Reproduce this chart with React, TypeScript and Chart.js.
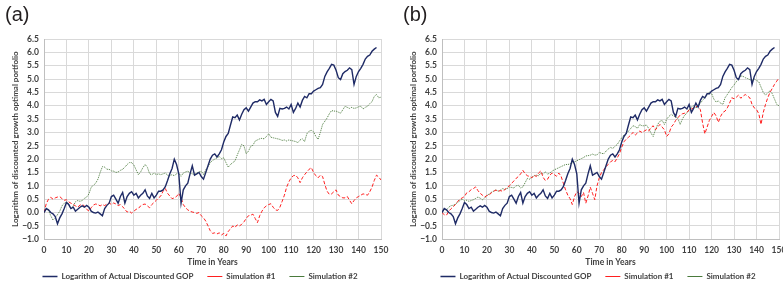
import React, { useEffect, useRef } from "react";
import { Chart, registerables } from "chart.js";

Chart.register(...registerables);

// ---------- data ----------
const YEARS: number[] = Array.from({ length: 151 }, (_, i) => i);

const SERIES_NAMES = ["Logarithm of Actual Discounted GOP", "Simulation #1", "Simulation #2"];
const X_TITLE = "Time in Years";
const Y_TITLE = "Logarithm of discounted growth optimal portfolio";
const PANEL_LABELS = ["(a)", "(b)"];

const X_MIN = 0, X_MAX = 150, X_STEP = 10;
const Y_MIN = -1, Y_MAX = 6.5, Y_STEP = 0.5;

// Logarithm of actual discounted GOP (same in both panels), years 0..148
const GOP = [
  0.0, 0.15, 0.1, 0.0, -0.05, -0.15, -0.42, -0.2, -0.05, 0.15,
  0.38, 0.3, 0.15, 0.2, 0.05, 0.12, 0.2, 0.25, 0.2, 0.27,
  0.2, 0.05, 0.0, -0.02, 0.02, -0.05, -0.12, 0.15, 0.27, 0.35,
  0.6, 0.65, 0.5, 0.35, 0.6, 0.75, 0.35, 0.6, 0.72, 0.78,
  0.65, 0.72, 0.55, 0.65, 0.72, 0.85, 0.62, 0.53, 0.72, 0.55,
  0.65, 0.8, 0.8, 0.85, 0.97, 1.2, 1.45, 1.65, 2.0, 1.8,
  1.45, 0.35, 0.85, 1.0, 1.1, 1.45, 1.75, 1.4, 1.45, 1.5,
  1.35, 1.25, 1.5, 1.75, 2.0, 2.15, 2.2, 2.08, 2.2, 2.35,
  2.64, 2.85, 2.96, 3.28, 3.58, 3.55, 3.65, 3.47, 3.68, 3.85,
  3.92, 3.8, 3.95, 4.1, 4.15, 4.15, 4.22, 4.18, 4.24, 4.05,
  4.15, 4.24, 4.18, 3.75, 3.6, 3.9, 3.88, 3.9, 3.95, 3.88,
  4.05, 3.75, 3.9, 4.1, 3.95, 4.2, 4.35, 4.3, 4.45, 4.45,
  4.55, 4.6, 4.65, 4.68, 4.8, 5.1, 5.27, 5.4, 5.55, 5.52,
  5.33, 5.05, 4.98, 5.2, 5.28, 5.33, 5.42, 5.35, 4.8, 5.1,
  5.28, 5.4, 5.55, 5.75, 5.85, 5.9, 6.04, 6.12, 6.18,
];

// Panel (a) simulations, years 0..150
const SIM1_A = [
  0.0, 0.33, 0.5, 0.57, 0.5, 0.55, 0.58, 0.6, 0.52, 0.46,
  0.48, 0.4, 0.35, 0.3, 0.25, 0.2, 0.28, 0.3, 0.25, 0.12,
  0.06, 0.18, 0.28, 0.32, 0.3, 0.25, 0.3, 0.26, 0.32, 0.36,
  0.3, 0.36, 0.32, 0.26, 0.3, 0.22, 0.12, 0.02, 0.05, -0.02,
  0.05, 0.12, 0.15, 0.25, 0.3, 0.32, 0.25, 0.18, 0.3, 0.38,
  0.46, 0.55, 0.62, 0.8, 0.9, 0.72, 0.62, 0.52, 0.55, 0.6,
  0.72, 0.55, 0.3, 0.18, 0.1, 0.05, 0.02, 0.0, -0.03, 0.0,
  -0.12, -0.2, -0.32, -0.5, -0.68, -0.78, -0.76, -0.8, -0.76, -0.84,
  -0.78, -0.88, -0.7, -0.62, -0.5, -0.56, -0.46, -0.5, -0.44, -0.35,
  -0.22, -0.12, -0.1, -0.06, -0.22, -0.38, -0.12, 0.05, 0.18, 0.25,
  0.3, 0.33, 0.2, 0.1, 0.08, 0.2, 0.42, 0.65, 0.95, 1.15,
  1.3, 1.38, 1.4, 1.3, 1.12, 1.3, 1.42, 1.52, 1.62, 1.68,
  1.5, 1.38, 1.3, 1.4, 1.35, 1.05, 0.8, 0.68, 0.7, 0.78,
  0.85, 0.65, 0.6, 0.55, 0.55, 0.6, 0.46, 0.33, 0.45, 0.55,
  0.6, 0.65, 0.7, 0.68, 0.65, 0.78, 0.95, 1.2, 1.4, 1.33,
  1.22,
];

const SIM2_A = [
  0.0, 0.12, 0.08, -0.12, -0.28, -0.2, -0.08, 0.05, 0.25, 0.35,
  0.38, 0.33, 0.14, 0.25, 0.4, 0.45, 0.42, 0.45, 0.53, 0.58,
  0.7, 0.95, 1.02, 1.1, 1.25, 1.5, 1.72, 1.7, 1.62, 1.62,
  1.56, 1.55, 1.5, 1.52, 1.58, 1.62, 1.7, 1.8, 1.87, 1.87,
  1.78, 1.6, 1.42, 1.52, 1.68, 1.8, 1.7, 1.45, 1.42, 1.48,
  1.42, 1.45, 1.42, 1.45, 1.48, 1.4, 1.38, 1.42, 1.38, 1.45,
  1.48, 1.36, 1.48, 1.52, 1.55, 1.48, 1.45, 1.42, 1.48, 1.52,
  1.55, 1.42, 1.6, 1.72, 1.87, 1.95, 2.0, 2.05, 2.1, 2.02,
  2.05, 1.87, 1.7, 1.8, 1.87, 1.93, 2.15, 2.35, 2.55, 2.5,
  2.2, 2.3, 2.48, 2.52, 2.68, 2.72, 2.76, 2.78, 2.76, 2.85,
  2.95, 2.82, 2.8, 2.78, 2.76, 2.74, 2.7, 2.72, 2.68, 2.72,
  2.7, 2.68, 2.66, 2.62, 2.72, 2.76, 2.66, 2.95, 3.05, 3.08,
  3.02, 2.85, 2.74, 3.0, 3.3, 3.42, 3.54, 3.7, 3.82, 3.8,
  3.8, 3.76, 3.72, 3.85, 3.98, 3.94, 3.9, 3.94, 3.9, 3.92,
  3.96, 3.98, 3.88, 3.94, 3.98, 4.08, 4.15, 4.35, 4.42, 4.3,
  4.32,
];

// Panel (b) simulations, years 0..150
const SIM1_B = [
  0.0, -0.08, -0.1, 0.05, 0.14, 0.22, 0.3, 0.42, 0.5, 0.55,
  0.6, 0.74, 0.78, 0.86, 0.9, 0.96, 0.82, 0.72, 0.65, 0.58,
  0.64, 0.66, 0.74, 0.8, 0.84, 0.8, 0.82, 0.8, 0.86, 0.95,
  1.0, 1.1, 1.18, 1.28, 1.35, 1.45, 1.58, 1.45, 1.38, 1.35,
  1.3, 1.4, 1.35, 1.48, 1.56, 1.32, 1.2, 1.25, 1.4, 1.48,
  1.42, 1.36, 1.48, 1.36, 1.1, 0.85, 0.65, 0.52, 0.3, 0.6,
  0.78, 0.72, 0.6, 0.75, 0.35, 0.62, 0.95, 0.72, 0.48, 1.0,
  1.3, 1.5, 1.6, 1.72, 1.8, 1.9, 1.95, 1.9, 2.05, 2.2,
  2.45, 2.65, 2.75, 2.82, 2.9, 3.0, 2.9, 2.98, 3.05, 3.0,
  3.05, 3.1, 3.05, 3.18, 3.25, 3.1, 3.2, 3.3, 3.2, 3.1,
  2.85, 2.95, 3.2, 3.3, 3.45, 3.55, 3.65, 3.7, 3.72, 3.75,
  3.85, 3.88, 3.92, 3.96, 4.0, 3.85, 3.35, 2.95, 3.2, 3.45,
  3.6, 3.75, 3.62, 3.38, 3.6, 3.75, 3.8, 3.92, 4.1, 4.3,
  4.26, 4.32, 4.4, 4.28, 4.36, 4.42, 4.36, 4.3, 4.05, 3.92,
  3.86, 3.7, 3.3, 3.75, 4.05, 4.3, 4.5, 4.65, 4.8, 4.92,
  5.05,
];

const SIM2_B = [
  0.0, 0.12, 0.1, 0.2, 0.26, 0.27, 0.32, 0.38, 0.45, 0.5,
  0.44, 0.46, 0.42, 0.45, 0.48, 0.53, 0.58, 0.54, 0.48, 0.55,
  0.63, 0.7, 0.76, 0.8, 0.85, 0.8, 0.84, 0.9, 0.86, 0.9,
  0.95, 0.94, 0.92, 1.0, 1.02, 0.92, 0.96, 1.12, 1.28, 1.25,
  1.32, 1.38, 1.4, 1.38, 1.48, 1.44, 1.52, 1.44, 1.48, 1.55,
  1.6, 1.64, 1.68, 1.72, 1.76, 1.8, 1.8, 1.82, 1.86, 1.9,
  1.94, 1.98, 2.02, 2.06, 2.12, 2.13, 2.15, 2.19, 2.15, 2.16,
  2.25, 2.22, 2.2, 2.3, 2.38, 2.44, 2.4, 2.48, 2.55, 2.68,
  2.8, 2.9, 2.95, 3.05, 3.15, 3.25, 3.22, 3.15, 3.3, 3.25,
  3.25, 3.28, 3.15, 2.98, 2.85, 3.1, 3.3, 3.42, 3.45, 3.3,
  3.5, 3.6, 3.68, 3.62, 3.58, 3.52, 3.3, 3.5, 3.65, 3.72,
  3.85, 3.95, 4.0, 3.92, 3.98, 4.1, 4.2, 4.3, 4.4, 4.52,
  4.46, 4.25, 4.14, 4.18, 4.1, 4.05, 4.3, 4.42, 4.55, 4.68,
  4.78, 4.9, 5.02, 5.12, 5.1, 5.05, 5.02, 4.98, 4.94, 5.0,
  4.95, 4.9, 4.7, 4.5, 4.4, 4.48, 4.56, 4.45, 4.25, 4.05,
  4.0,
];

// ---------- styles ----------
const NAVY = "#1f2b66";
const RED = "#ff1f1f";
const GREEN = "#4a7a3c";
const GRID = "#d9d9d9";
const AXIS = "#bfbfbf";
const TEXT = "#404040";
const FAMILY = 'Lato, "Liberation Sans", Arial, sans-serif';

const toPoints = (vals: number[]) => vals.map((v, i) => ({ x: YEARS[i], y: v }));
const fmtY = (v: number) => (v < 0 ? "\u2212" : "") + Math.abs(v).toFixed(1);

function Panel({ left, label, sim1, sim2 }: { left: number; label: string; sim1: number[]; sim2: number[] }) {
  const ref = useRef<HTMLCanvasElement>(null);

  useEffect(() => {
    const tickFont = { family: FAMILY, size: 8.5, weight: "bold" as const, lineHeight: 1 };
    const chart = new Chart(ref.current!, {
      type: "line",
      data: {
        datasets: [
          {
            label: SERIES_NAMES[0],
            data: toPoints(GOP),
            borderColor: NAVY,
            backgroundColor: NAVY,
            borderWidth: 1.4,
            pointRadius: 0,
            tension: 0,
          },
          {
            label: SERIES_NAMES[1],
            data: toPoints(sim1),
            borderColor: RED,
            backgroundColor: RED,
            borderWidth: 1.0,
            borderDash: [3.5, 2],
            pointRadius: 0,
            tension: 0,
          },
          {
            label: SERIES_NAMES[2],
            data: toPoints(sim2),
            borderColor: GREEN,
            backgroundColor: GREEN,
            borderWidth: 1.0,
            borderDash: [1, 1],
            pointRadius: 0,
            tension: 0,
          },
        ],
      },
      options: {
        animation: false,
        responsive: false,
        maintainAspectRatio: false,
        events: [],
        layout: { padding: { top: 39, bottom: -8.5, left: 0, right: 0 } },
        plugins: {
          tooltip: { enabled: false },
          title: { display: false },
          legend: {
            position: "bottom",
            labels: {
              usePointStyle: true,
              pointStyle: "line",
              pointStyleWidth: 15,
              boxHeight: 8,
              padding: 14,
              color: TEXT,
              font: { family: FAMILY, size: 8, weight: "bold" },
            },
          },
        },
        scales: {
          x: {
            type: "linear",
            min: X_MIN,
            max: X_MAX,
            ticks: {
              stepSize: X_STEP,
              autoSkip: false,
              maxRotation: 0,
              padding: 3.5,
              color: TEXT,
              font: tickFont,
            },
            grid: { color: GRID, drawTicks: true, tickLength: 3, tickColor: "rgba(0,0,0,0)" },
            border: { color: AXIS },
            title: {
              display: true,
              text: X_TITLE,
              color: TEXT,
              font: { family: FAMILY, size: 8.5, weight: "bold", lineHeight: 1 },
              padding: { top: 0, bottom: -7.75 },
            },
          },
          y: {
            type: "linear",
            min: Y_MIN,
            max: Y_MAX,
            ticks: {
              stepSize: Y_STEP,
              autoSkip: false,
              padding: 5,
              color: TEXT,
              font: tickFont,
              callback: (v: any) => fmtY(Number(v)),
            },
            grid: { color: GRID, drawTicks: false },
            border: { color: AXIS },
            title: {
              display: true,
              text: Y_TITLE,
              color: TEXT,
              font: { family: FAMILY, size: 8, weight: "bold", lineHeight: 1 },
              padding: { top: 11, bottom: 0 },
            },
            afterFit: (s: any) => {
              s.width = 44;
            },
          },
          pad: {
            type: "linear",
            axis: "y",
            position: "right",
            display: true,
            grid: { display: false, drawTicks: false },
            ticks: { display: false },
            border: { display: false },
            afterFit: (s: any) => {
              s.width = 19;
            },
          },
        },
      } as any,
    });
    return () => chart.destroy();
  }, [sim1, sim2]);

  return (
    <div style={{ position: "absolute", left, top: 0, width: 400, height: 282 }}>
      <canvas ref={ref} width={400} height={282} style={{ display: "block", width: 400, height: 282 }} />
      <div
        style={{
          position: "absolute",
          left: 5,
          top: 4,
          fontFamily: '"Liberation Sans", Arial, sans-serif',
          fontSize: 20,
          lineHeight: "20px",
          color: "#231f20",
          whiteSpace: "nowrap",
        }}
      >
        {label}
      </div>
    </div>
  );
}

export default function App() {
  return (
    <div
      style={{
        position: "absolute",
        left: 0,
        top: 0,
        width: 783,
        height: 282,
        overflow: "hidden",
        background: "#ffffff",
      }}
    >
      <Panel left={0} label={PANEL_LABELS[0]} sim1={SIM1_A} sim2={SIM2_A} />
      <Panel left={398} label={PANEL_LABELS[1]} sim1={SIM1_B} sim2={SIM2_B} />
    </div>
  );
}
